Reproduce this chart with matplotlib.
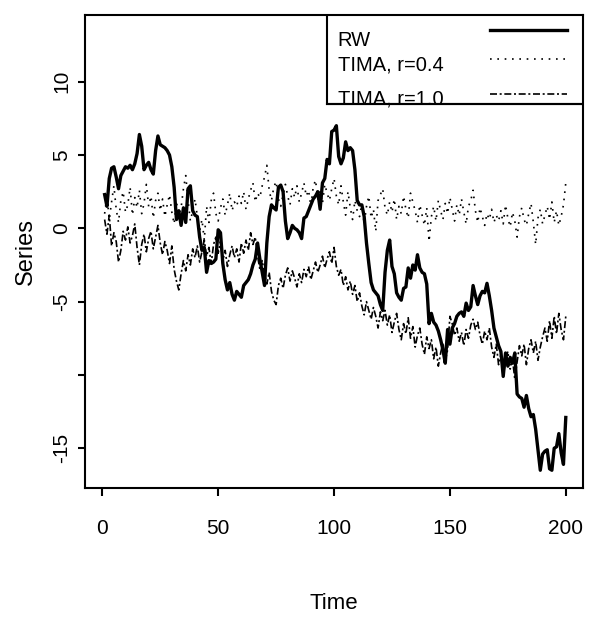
from __future__ import annotations

import matplotlib

matplotlib.use("Agg")
import matplotlib.pyplot as plt
from matplotlib.patches import Rectangle

# values, one per time step (1..200)
time = list(range(1, 201))

rw = [
    2.3, 1.5, 3.4, 4.1, 4.2, 3.5, 2.7, 3.6, 3.9, 4.2,
    4.1, 4.3, 4.0, 4.4, 5.1, 6.4, 5.6, 4.0, 4.3, 4.5,
    4.0, 3.7, 5.3, 6.3, 5.7, 5.6, 5.5, 5.3, 5.0, 4.2,
    2.8, 0.6, 1.2, 0.2, 1.4, 0.4, 2.7, 2.9, 1.2, 0.9,
    0.8, -0.6, -1.5, -1.3, -3.0, -2.2, -2.4, -2.3, -2.1, -0.1,
    -0.3, -2.4, -3.5, -4.2, -3.7, -4.5, -4.9, -4.3, -4.5, -4.7,
    -3.9, -3.7, -3.5, -3.1, -2.5, -2.1, -1.0, -2.1, -3.0, -3.9,
    -1.0, 0.8, 1.6, 1.4, 1.25, 2.8, 2.95, 2.5, 0.5, -0.7,
    -0.3, 0.2, 0.0, -0.1, -0.3, -0.7, 0.7, 0.8, 1.2, 1.6,
    2.0, 2.2, 2.5, 1.3, 3.1, 3.4, 4.7, 4.4, 6.6, 6.7,
    7.0, 4.9, 4.4, 4.8, 5.9, 5.3, 5.5, 5.3, 4.0, 1.9,
    1.6, 1.6, 0.8, -1.0, -2.4, -3.7, -4.2, -4.4, -4.6, -5.2,
    -5.6, -3.0, -1.5, -0.8, -2.6, -3.1, -4.4, -4.7, -4.9, -4.1,
    -4.0, -2.7, -3.4, -2.5, -2.85, -1.8, -2.7, -3.0, -3.1, -3.8,
    -6.5, -5.8, -6.4, -6.6, -7.0, -7.6, -8.3, -9.2, -6.9, -7.9,
    -6.8, -6.5, -6.0, -5.8, -5.7, -6.0, -5.1, -5.6, -5.35, -3.9,
    -4.6, -5.2, -4.6, -4.3, -4.4, -3.75, -4.6, -5.6, -6.8, -7.4,
    -8.0, -8.4, -10.1, -8.5, -9.4, -8.8, -9.2, -8.5, -11.3, -11.5,
    -11.6, -12.2, -11.4, -12.3, -12.85, -12.7, -13.7, -15.1, -16.5, -15.4,
    -15.2, -15.1, -16.4, -16.5, -15.0, -14.9, -14.0, -15.3, -16.1, -12.9,
]

tima_04 = [
    1.0, 2.2, 0.6, 1.8, 2.9, 1.3, 0.4, 1.9, 2.5, 1.1,
    1.6, 2.8, 0.9, 2.1, 1.4, 2.6, 1.0, 1.7, 3.0, 1.5,
    2.2, 0.7, 1.9, 2.4, 1.2, 2.0, 0.8, 1.6, 2.3, 1.1,
    0.3, 1.8, 0.9, 1.4, 2.7, 3.6, 1.9, 0.5, 1.2, 2.0,
    0.8, -0.2, 0.6, -0.8, 1.5, 0.4, 1.9, 2.4, 1.0, 0.5,
    1.4, 2.0, 0.9, 1.6, 2.4, 1.2, 1.8, 1.5, 2.2, 1.7,
    2.5, 1.3, 2.0, 2.6, 3.1, 1.8, 2.4, 2.1, 2.9, 3.5,
    4.3, 2.6, 1.9, 2.8, 3.2, 2.0, 1.5, 2.3, 3.0, 2.2,
    1.6, 2.7, 2.1, 2.9, 1.8, 2.4, 3.1, 2.2, 2.6, 1.5,
    2.8, 3.3, 2.0, 2.5, 1.7, 3.0, 2.4, 1.9, 2.7, 3.4,
    2.2, 1.6, 2.9, 1.8, 0.9, 2.5, 1.4, 0.6, 1.9, 1.2,
    0.8, 1.7, 0.3, 1.5, 2.2, 0.7, 1.3, -0.2, 1.9, 2.3,
    2.7, 1.4, 0.9, 1.8, 1.1, 2.0, 0.6, 1.5, 1.0, 2.2,
    1.3, 0.7, 2.4, 1.8, 1.2, 0.4, 1.6, 0.9, 0.2, 1.4,
    -0.9, 0.8, 1.5, 0.5, 1.9, 1.2, 0.6, 1.7, 1.0, 2.1,
    1.3, 0.5, 1.6, 0.9, 2.0, 1.1, 0.3, 1.5, 1.9, 2.6,
    1.2, 0.4, 1.4, 0.8, 0.2, 1.0, 0.6, 1.3, 0.4, 0.9,
    0.5, 1.2, 0.3, 1.6, 0.7, 0.1, 1.1, 0.5, -0.6, 0.8,
    1.4, 0.6, 0.2, 1.0, 1.7, 0.4, -1.1, 0.7, 1.3, 0.3,
    0.9, 1.5, 0.6, 1.8, 0.4, 1.2, 0.2, 0.8, 1.6, 3.1,
]

tima_10 = [
    0.6, -0.4, 0.9, -1.2, -0.3, -0.9, -2.3, -1.5, -0.2, -0.8,
    0.1, -1.0, -0.5, 0.3, -1.3, -2.5, -1.1, -0.4, -1.6, -0.7,
    -0.2, -1.4, -0.6, 0.2, -1.0, -1.8, -0.9, -1.5, -2.4, -1.2,
    -2.8, -3.6, -4.2, -3.1, -2.2, -2.9, -1.8, -2.5, -1.4, -2.0,
    -1.2, -2.3, -1.6, -0.8, -1.9, -1.3, -2.4, -1.1, -0.6, -1.7,
    -0.9, -2.2, -1.5, -2.6, -1.8, -1.2, -2.0, -1.4, -2.3, -1.0,
    -1.7, -0.8, -1.5, -0.3, -1.1, -0.6, -1.9, -2.8, -2.2, -3.1,
    -3.8, -3.0, -4.3, -4.9, -5.2, -3.9, -3.4, -4.1, -3.2, -2.7,
    -3.6, -2.9, -3.4, -4.0, -3.1, -3.7, -2.8, -3.3, -2.6, -3.5,
    -2.9, -2.3, -3.0, -2.5, -1.9, -2.7, -2.1, -1.6, -2.4, -1.3,
    -2.6, -3.2, -2.8, -3.9, -3.3, -4.2, -3.6, -4.5, -3.9, -5.0,
    -4.4, -5.3, -5.9, -5.0, -5.6, -6.2, -5.4, -6.0, -6.8, -5.7,
    -6.3, -5.6, -6.6, -5.9, -7.1, -6.4, -5.8, -6.9, -7.6, -6.5,
    -7.2, -6.1, -7.5, -6.7, -8.1, -7.3, -6.8, -7.9, -8.6, -7.4,
    -8.2, -7.6, -8.9, -8.1, -9.4, -8.5, -7.8, -9.0, -8.3, -6.0,
    -6.5, -7.3, -6.8, -7.7, -7.1, -8.0, -6.9, -7.5, -6.6, -6.2,
    -6.9, -6.4, -7.3, -7.9, -7.0, -7.6, -6.8, -8.1, -8.8, -7.9,
    -9.3, -8.6, -10.1, -9.0, -8.4, -9.6, -8.9, -10.3, -9.1, -8.0,
    -8.7, -7.9, -9.3, -8.2, -7.6, -8.5, -7.7, -9.0, -8.1, -7.4,
    -6.8, -7.7, -6.3, -7.5, -6.0, -7.2, -5.8, -6.9, -7.6, -6.0,
]

x_ticks = [0, 50, 100, 150, 200]
y_ticks = [-15, -10, -5, 0, 5, 10]
y_tick_labels = ["-15", "", "-5", "0", "5", "10"]
legend_labels = ["RW", "TIMA, r=0.4", "TIMA, r=1.0"]

FONT = ["Liberation Sans", "DejaVu Sans"]

STYLES = [
    dict(color="black", linewidth=2.4, linestyle="-"),
    dict(color="black", linewidth=1.2, linestyle=(0, (1.0, 3.4))),
    dict(color="black", linewidth=1.2, linestyle=(0, (4.2, 1.6, 1.2, 1.6))),
]


def main() -> None:
    fig = plt.figure(figsize=(5.91, 6.22), dpi=100)
    W, H = 591, 622
    left, right, top, bottom = 85, 582.7, 15, 488
    ax = fig.add_axes(
        [left / W, (H - bottom) / H, (right - left) / W, (bottom - top) / H]
    )

    for series, style in zip([rw, tima_04, tima_10], STYLES):
        ax.plot(time, series, solid_joinstyle="round", **style)

    ax.set_xlim(-7.47, 207.3)
    ax.set_ylim(-17.71, 14.55)

    for sp in ax.spines.values():
        sp.set_linewidth(1.5)

    ax.set_xticks(x_ticks)
    ax.set_xticklabels([str(v) for v in x_ticks], family=FONT, fontsize=15)
    ax.set_yticks(y_ticks)
    ax.set_yticklabels(
        y_tick_labels, family=FONT, fontsize=15, rotation=90, va="center"
    )
    ax.tick_params(axis="x", length=6, width=1.5, pad=16)
    ax.tick_params(axis="y", length=5, width=1.5, pad=5)

    ax.set_xlabel("Time", family=FONT, fontsize=16, labelpad=40)
    ax.set_ylabel("Series", family=FONT, fontsize=17, labelpad=11)

    # legend drawn as in the base-R plot: box in the upper right corner
    ax.add_patch(
        Rectangle(
            (0.486, 0.812), 0.514, 0.188, transform=ax.transAxes,
            facecolor="white", edgecolor="black", linewidth=1.5, zorder=3,
        )
    )
    text_y = [0.934, 0.883, 0.811]
    line_y = [0.968, 0.907, 0.833]
    for label, ty, ly, style in zip(legend_labels, text_y, line_y, STYLES):
        ax.text(
            0.508, ty, label, transform=ax.transAxes, family=FONT,
            fontsize=14.5, va="baseline", ha="left", zorder=4,
        )
        ax.plot([0.814, 0.968], [ly, ly], transform=ax.transAxes,
                zorder=4, **style)
    # the box's bottom edge runs over the last label, as in the reference
    ax.plot([0.486, 1.0], [0.812, 0.812], transform=ax.transAxes,
            color="black", linewidth=1.5, zorder=5)

    fig.savefig("out.png", dpi=100)
    plt.close(fig)


if __name__ == "__main__":
    main()
